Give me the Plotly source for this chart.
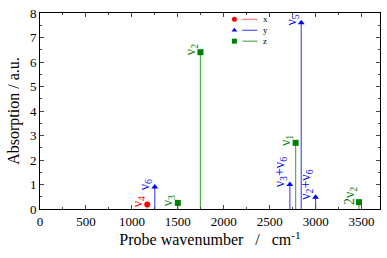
import plotly.graph_objects as go

# data
x_pos = [1167]
x_int = [0.18]
x_lab = ["ν<sub>4</sub>"]

y_pos = [1249, 2719, 2843, 2999]
y_int = [0.9, 1.0, 7.6, 0.48]
y_lab = ["ν<sub>6</sub>", "ν<sub>3</sub>+ν<sub>6</sub>", "ν<sub>5</sub>", "ν<sub>2</sub>+ν<sub>6</sub>"]

z_pos = [1500, 1746, 2782, 3471]
z_int = [0.25, 6.4, 2.7, 0.28]
z_lab = ["ν<sub>3</sub>", "ν<sub>2</sub>", "ν<sub>1</sub>", "2ν<sub>2</sub>"]

series_names = ["x", "y", "z"]

series = [
    ("x", x_pos, x_int, x_lab, "#ff7878", "#ff0000", "circle"),
    ("y", y_pos, y_int, y_lab, "#5050ff", "#0000ff", "triangle-up"),
    ("z", z_pos, z_int, z_lab, "#50b050", "#008000", "square"),
]

FONT = "Liberation Serif, Times New Roman, Times, serif"
L, R, T, B, W, H = 40, 6, 8, 49, 387, 258
PW, PH = W - L - R, H - T - B

fig = go.Figure()
annotations = []
for i, (name, xs, ys, labs, lc, mc, sym) in enumerate(series):
    sx, sy = [], []
    for a, b in zip(xs, ys):
        sx += [a, a, None]
        sy += [0, b, None]
    fig.add_trace(go.Scatter(x=sx, y=sy, mode="lines", line=dict(color=lc, width=1.2),
                             showlegend=False, hoverinfo="skip"))
    fig.add_trace(go.Scatter(x=xs, y=ys, mode="markers",
                             marker=dict(color=mc, symbol=sym, size=6),
                             showlegend=False))
    for a, b, t in zip(xs, ys, labs):
        annotations.append(dict(x=a, y=b, text=t, textangle=-90, showarrow=False,
                                xanchor="center", yanchor="bottom", xshift=-9, yshift=-5,
                                font=dict(family=FONT, size=14, color=mc)))
    # custom compact legend (pixel coordinates inside the plot area)
    ly = 6.5 + i * 11.2
    fig.add_trace(go.Scatter(x=[203, 218], y=[ly, ly], mode="lines", xaxis="x2", yaxis="y2",
                             line=dict(color=lc, width=1.2), showlegend=False, hoverinfo="skip"))
    fig.add_trace(go.Scatter(x=[195], y=[ly], mode="markers", xaxis="x2", yaxis="y2",
                             marker=dict(color=mc, symbol=sym, size=5), showlegend=False,
                             hoverinfo="skip"))
    annotations.append(dict(x=222, y=ly, xref="x2", yref="y2", text=series_names[i],
                            showarrow=False, xanchor="left", yanchor="middle",
                            font=dict(family=FONT, size=9, color="black")))

fig.update_layout(
    width=W, height=H,
    margin=dict(l=L, r=R, t=T, b=B),
    paper_bgcolor="white", plot_bgcolor="white",
    font=dict(family=FONT, size=13, color="black"),
    annotations=annotations,
    showlegend=False,
    xaxis2=dict(overlaying="x", range=[0, PW], visible=False, fixedrange=True),
    yaxis2=dict(overlaying="y", range=[PH, 0], visible=False, fixedrange=True),
)
fig.update_xaxes(selector=dict(overlaying=None))
fig.update_layout(xaxis=dict(range=[0, 3700], tickvals=[0, 500, 1000, 1500, 2000, 2500, 3000, 3500],
                 ticks="inside", ticklen=4, showline=True, mirror="ticks", linecolor="black",
                 linewidth=1, showgrid=False, zeroline=False,
                 minor=dict(ticks="inside", ticklen=2, dtick=250, showgrid=False),
                 title=dict(text="Probe wavenumber   /   cm<sup>-1</sup>", font=dict(size=16), standoff=4)))
fig.update_layout(yaxis=dict(range=[0, 8], dtick=1, ticks="inside", ticklen=4, showline=True, mirror="ticks",
                 linecolor="black", linewidth=1, showgrid=False, zeroline=False,
                 minor=dict(ticks="inside", ticklen=2, dtick=0.5, showgrid=False),
                 title=dict(text="Absorption / a.u.", font=dict(size=16), standoff=6)))
fig.write_html("out.html", config={"displayModeBar": False},
               post_script="document.body.style.margin='0';")
